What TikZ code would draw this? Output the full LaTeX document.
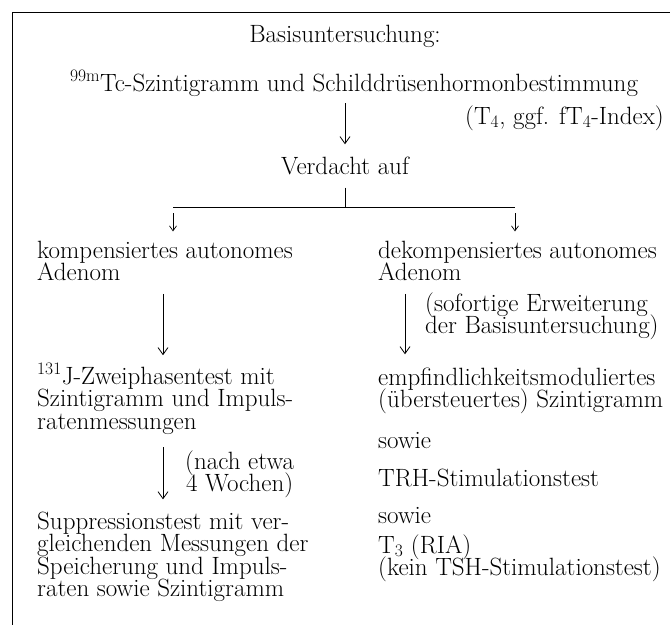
\documentclass[tikz,border=0pt]{standalone}
\usetikzlibrary{arrows.meta}
\newcommand\flowfont{\fontsize{25}{22.5}\selectfont\lineskiplimit-30pt\relax}
\begin{document}
\begin{tikzpicture}[x=1pt,y=-1pt,
    every node/.style={inner sep=0pt,align=left,font=\flowfont},
    arr/.style={-{Straight Barb[length=7pt,width=10pt]},line width=0.8pt},
    branch/.style={-{Straight Barb[length=5pt,width=7pt]},line width=0.7pt}]
    \useasboundingbox (0,0) rectangle (670,625);
    \draw[line width=1pt] (670,12) -- (12,12) -- (12,625);

    \node[anchor=base] (basis) at (345,42) {Basisuntersuchung:};
    \node[anchor=base] (szinti) at (354,91) {\textsuperscript{99m}Tc-Szintigramm und Schilddrüsenhormonbestimmung};
    \node[anchor=base east] (index) at (664,124) {(T\textsubscript{4}, ggf. fT\textsubscript{4}-Index)};
    \node[anchor=base] (verdacht) at (345,174) {Verdacht auf};

    \coordinate (split) at (345,207);
    \coordinate (lsplit) at (173,207);
    \coordinate (rsplit) at (515,207);
    \coordinate (lcol) at (163,0);
    \coordinate (rcol) at (405,0);

    \node[anchor=base west] (komp) at (37,280.5) {kompensiertes autonomes\\Adenom};
    \node[anchor=base west] (zwei) at (37,429) {\textsuperscript{131}J-Zweiphasentest mit\\Szintigramm und Impuls-\\ratenmessungen};
    \node[anchor=base west,align=center] (wochen) at (185,491.5) {(nach etwa\\4 Wochen)};
    \node[anchor=base west] (suppr) at (37,596.5) {Suppressionstest mit ver-\\gleichenden Messungen der\\Speicherung und Impuls-\\raten sowie Szintigramm};

    \node[anchor=base west] (dekomp) at (378,280.5) {dekompensiertes autonomes\\Adenom};
    \node[anchor=base west] (sofort) at (425,333.5) {(sofortige Erweiterung\\der Basisuntersuchung)};
    \node[anchor=base west] (empf) at (378,407.5) {empfindlichkeitsmoduliertes\\(übersteuertes) Szintigramm};
    \node[anchor=base west] (sowiea) at (378,448) {sowie};
    \node[anchor=base west] (trh) at (378,486) {TRH-Stimulationstest};
    \node[anchor=base west] (sowieb) at (378,523) {sowie};
    \node[anchor=base west] (tdrei) at (378,575.5) {T\textsubscript{3} (RIA)\\(kein TSH-Stimulationstest)};

    \draw[arr,shorten <=7pt,shorten >=12pt] (szinti.south -| split) -- (verdacht.north -| split);
    \draw[line width=0.7pt,shorten <=13pt] (verdacht.south -| split) -- (split);
    \draw[line width=0.7pt] (lsplit) -- (rsplit);
    \draw[branch,shorten <=6pt,shorten >=9pt] (lsplit) -- (lsplit |- komp.north);
    \draw[branch,shorten <=6pt,shorten >=9pt] (rsplit) -- (rsplit |- dekomp.north);
    \draw[arr,shorten <=13pt,shorten >=8pt] (komp.south -| lcol) -- (zwei.north -| lcol);
    \draw[arr,shorten <=13pt,shorten >=12pt] (zwei.south -| lcol) -- (suppr.north -| lcol);
    \draw[arr,shorten <=13pt,shorten >=13pt] (dekomp.south -| rcol) -- (empf.north -| rcol);
\end{tikzpicture}
\end{document}
